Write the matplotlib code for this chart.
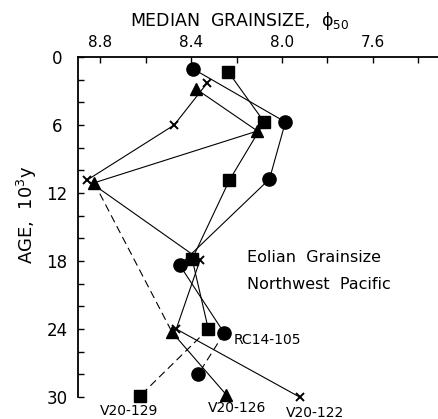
import matplotlib
matplotlib.use("Agg")
import matplotlib.pyplot as plt
from matplotlib.ticker import MultipleLocator

# RC14-105 (circles)
rc14_phi = [8.39, 7.985, 8.055, 8.45, 8.254, 8.368]
rc14_age = [1.06, 5.74, 10.77, 18.36, 24.36, 27.98]
# V20-129 (squares)
v129_phi = [8.236, 8.078, 8.231, 8.395, 8.324, 8.624]
v129_age = [1.32, 5.74, 10.86, 17.83, 24.0, 29.9]
# V20-126 (triangles)
v126_phi = [8.377, 8.108, 8.826, 8.483, 8.245]
v126_age = [2.83, 6.53, 11.1, 24.3, 29.8]
# V20-122 (x)
v122_phi = [8.329, 8.474, 8.857, 8.36, 8.465, 7.923]
v122_age = [2.3, 6.0, 10.86, 17.9, 24.0, 30.0]

core_labels = ["RC14-105", "V20-129", "V20-126", "V20-122"]
x_ticks = [8.8, 8.4, 8.0, 7.6]
y_ticks = [0, 6, 12, 18, 24, 30]

plt.rcParams['font.family'] = ['DejaVu Sans']
plt.rcParams['mathtext.default'] = 'regular'

W, H = 438, 419
fig = plt.figure(figsize=(W/100, H/100), dpi=100)
ax = fig.add_axes([78/W, 1-397/H, 1-78/W, 340/H])
ax.set_xlim(8.897, 7.314)
ax.set_ylim(30, 0)

lw = 0.8
c = 'black'
dsh = (7, 4)
ax.plot(rc14_phi[:5], rc14_age[:5], '-', color=c, lw=lw)
ax.plot(rc14_phi[4:], rc14_age[4:], '--', color=c, lw=lw, dashes=dsh)
ax.plot(v129_phi[:5], v129_age[:5], '-', color=c, lw=lw)
ax.plot(v129_phi[4:], v129_age[4:], '--', color=c, lw=lw, dashes=dsh)
ax.plot(v126_phi[:3], v126_age[:3], '-', color=c, lw=lw)
ax.plot(v126_phi[2:4], v126_age[2:4], '--', color=c, lw=lw, dashes=dsh)
ax.plot(v126_phi[3:], v126_age[3:], '-', color=c, lw=lw)
ax.plot(v122_phi, v122_age, '-', color=c, lw=lw, clip_on=False)

ax.plot(rc14_phi, rc14_age, 'o', color=c, ms=9.5, ls='none', clip_on=False)
ax.plot(v129_phi, v129_age, 's', color=c, ms=8.5, ls='none', clip_on=False)
ax.plot(v126_phi, v126_age, '^', color=c, ms=9, ls='none', clip_on=False)
ax.plot(v122_phi, v122_age, 'x', color=c, ms=5.5, mew=1.4, ls='none', clip_on=False)

ax.spines['right'].set_visible(False)
ax.spines['bottom'].set_visible(False)
ax.spines['top'].set_linewidth(1.3)
ax.spines['left'].set_linewidth(1.3)

ax.xaxis.tick_top()
ax.set_xticks(x_ticks)
ax.set_xticklabels([f"{v:.1f}" for v in x_ticks])
ax.xaxis.set_minor_locator(MultipleLocator(0.2))
ax.set_yticks(y_ticks)
ax.set_yticklabels([str(v) for v in y_ticks])
ax.yaxis.set_minor_locator(MultipleLocator(2))
ax.tick_params(axis='x', which='both', direction='in', length=4, width=1, pad=5, labelsize=11)
ax.tick_params(axis='y', which='both', direction='in', length=4, width=1, pad=15, labelsize=12)
for lab in ax.get_yticklabels():
    lab.set_horizontalalignment('center')

fig.text(240/W, 1-21/H, r'MEDIAN  GRAINSIZE,  $\phi_{50}$', ha='center', va='center', fontsize=12.5)
fig.text(27/W, 1-215/H, r'AGE,  10$^3$y', rotation=90, ha='center', va='center', fontsize=13)

ax.text(8.152, 17.7, 'Eolian  Grainsize', fontsize=11.5, va='center', ha='left')
ax.text(8.152, 20.1, 'Northwest  Pacific', fontsize=11.5, va='center', ha='left')
ax.text(8.214, 24.98, core_labels[0], fontsize=10, va='center', ha='left')
ax.text(8.672, 31.2, core_labels[1], fontsize=10, va='center', ha='center', clip_on=False)
ax.text(8.196, 31.0, core_labels[2], fontsize=10, va='center', ha='center', clip_on=False)
ax.text(7.853, 31.4, core_labels[3], fontsize=10, va='center', ha='center', clip_on=False)

fig.savefig('out.png', dpi=100)
